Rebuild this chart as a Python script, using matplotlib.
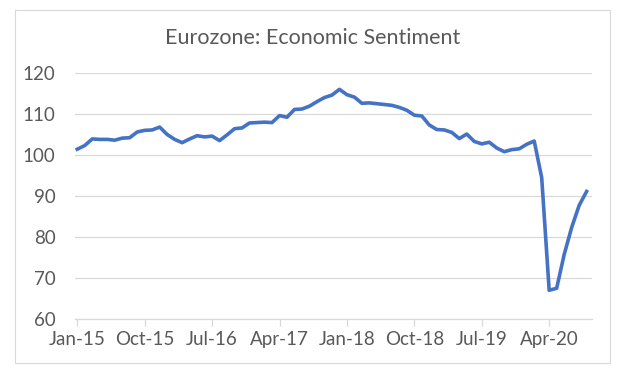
from matplotlib import pyplot as plt
from matplotlib.patches import Rectangle
import numpy as np

# monthly euro area economic sentiment indicator, Jan-15 .. Sep-20
esi_2015 = [101.4, 102.3, 103.9, 103.8, 103.8, 103.6, 104.1, 104.2, 105.6, 106.0, 106.1, 106.8]
esi_2016 = [105.0, 103.8, 103.0, 103.9, 104.7, 104.4, 104.6, 103.5, 104.9, 106.4, 106.6, 107.8]
esi_2017 = [107.9, 108.0, 107.9, 109.6, 109.2, 111.1, 111.2, 111.9, 113.0, 114.0, 114.6, 116.0]
esi_2018 = [114.7, 114.1, 112.6, 112.7, 112.5, 112.3, 112.1, 111.6, 110.9, 109.7, 109.5, 107.3]
esi_2019 = [106.2, 106.1, 105.5, 104.0, 105.1, 103.3, 102.7, 103.1, 101.7, 100.8, 101.3, 101.5]
esi_2020 = [102.6, 103.4, 94.5, 67.0, 67.5, 75.7, 82.3, 87.7, 91.1]

tick_labels = ['Jan-15', 'Oct-15', 'Jul-16', 'Apr-17', 'Jan-18', 'Oct-18', 'Jul-19', 'Apr-20']
y_ticks = [60, 70, 80, 90, 100, 110, 120]

values = esi_2015 + esi_2016 + esi_2017 + esi_2018 + esi_2019 + esi_2020
months = np.arange(len(values))

plt.rcParams['font.family'] = ['Lato', 'DejaVu Sans']
txt_col = '#595959'

fig = plt.figure(figsize=(6.25, 3.76), dpi=100)
fig.patches.append(Rectangle((15/625, 1 - 363/376), 595/625, 353/376, transform=fig.transFigure,
                             fill=False, edgecolor='#d9d9d9', linewidth=0.8))
ax = fig.add_axes([0.12, 0.1516, 0.827, 0.6544])

ax.plot(months, values, color='#4472C4', linewidth=2.6, solid_joinstyle='round', zorder=3)

ax.set_ylim(60, 120)
ax.set_xlim(-0.3, 68.7)
ax.set_yticks(y_ticks)
ax.set_xticks(np.arange(0, 9 * len(tick_labels), 9))
ax.set_xticklabels(tick_labels)
ax.grid(axis='y', color='#d9d9d9', linewidth=0.9)
ax.set_axisbelow(True)
for s in ['top', 'right', 'left']:
    ax.spines[s].set_visible(False)
ax.spines['bottom'].set_color('#d9d9d9')
ax.spines['bottom'].set_linewidth(0.9)
ax.tick_params(axis='y', length=0, pad=14, labelsize=13.5, labelcolor=txt_col)
ax.tick_params(axis='x', length=5, color='#d9d9d9', width=0.9, pad=4, labelsize=13.5, labelcolor=txt_col)

fig.text(0.5, 1 - 38/376, 'Eurozone: Economic Sentiment', ha='center', va='center', fontsize=15.5, color=txt_col)

fig.savefig('out.png', dpi=100)
